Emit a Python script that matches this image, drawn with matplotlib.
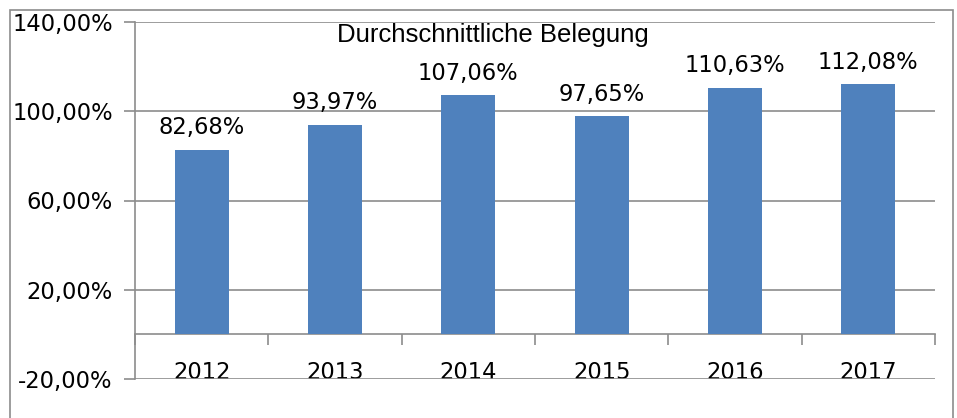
import matplotlib.pyplot as plt
from matplotlib.patches import Rectangle
from matplotlib.ticker import FixedLocator, NullFormatter

# data
years = ['2012', '2013', '2014', '2015', '2016', '2017']
belegung = [82.68, 93.97, 107.06, 97.65, 110.63, 112.08]
y_ticks = [-20, 20, 60, 100, 140]
title = 'Durchschnittliche Belegung'

W, H = 957, 418
grey = '#8c8c8c'
bar_col = '#4f81bd'
num_font = 'DejaVu Sans'

fig = plt.figure(figsize=(W / 100, H / 100), dpi=100)
ax = fig.add_axes([135 / W, 1 - 379 / H, 800 / W, 357 / H])

x = list(range(len(years)))
bars = ax.bar(x, belegung, width=0.405, color=bar_col, zorder=3)

ax.set_xlim(-0.5, len(years) - 0.5)
ax.set_ylim(y_ticks[0], y_ticks[-1])

# y axis with gridlines at labelled ticks only
ax.set_yticks(y_ticks)
ax.set_yticklabels([f'{v:.2f}%'.replace('.', ',') for v in y_ticks],
                   family=num_font, fontsize=16.3)
ax.yaxis.grid(True, color=grey, lw=1.2, zorder=0)
ax.tick_params(axis='y', direction='out', length=8, width=1.2, color=grey, pad=8)

# category axis sits at zero
for s in ['top', 'right']:
    ax.spines[s].set_visible(False)
ax.spines['left'].set_color(grey)
ax.spines['left'].set_linewidth(1.2)
ax.spines['bottom'].set_position(('data', 0))
ax.spines['bottom'].set_color(grey)
ax.spines['bottom'].set_linewidth(1.2)

ax.xaxis.set_major_locator(FixedLocator([i - 0.5 for i in range(len(years) + 1)]))
ax.xaxis.set_major_formatter(NullFormatter())
ax.tick_params(axis='x', which='major', direction='out', length=8, width=1.2, color=grey)
ax.set_xticks(x, minor=True)
ax.set_xticklabels(years, minor=True, family=num_font, fontsize=16.3)
ax.tick_params(axis='x', which='minor', length=0, pad=19.5)

# data labels
for b, v in zip(bars, belegung):
    ax.annotate(f'{v:.2f}%'.replace('.', ','), (b.get_x() + b.get_width() / 2, v),
                xytext=(0, 7.5), textcoords='offset points', ha='center', va='bottom',
                family=num_font, fontsize=16.3)

fig.text(493 / W, 1 - 35 / H, title, ha='center', va='center',
         family='Liberation Sans', fontsize=18.5)

# outer chart border
fig.patches.append(Rectangle((10 / W, -0.1), 943 / W, 1.1 - 10 / H,
                             transform=fig.transFigure, fill=False,
                             edgecolor=grey, lw=1.2))

fig.savefig('out.png', dpi=100)
